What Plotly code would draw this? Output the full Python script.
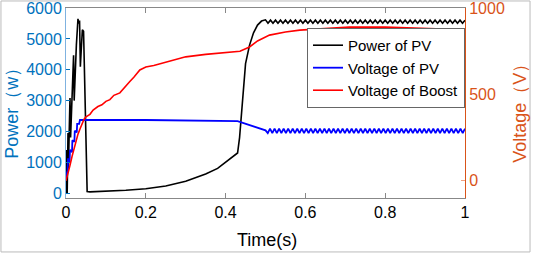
import plotly.graph_objects as go

# ---- data ----
power_t = [0, 0.001, 0.002, 0.003, 0.005, 0.006, 0.008, 0.010, 0.0115, 0.013, 0.016, 0.019,
           0.0205, 0.022, 0.026, 0.030, 0.032, 0.034, 0.036, 0.038, 0.041, 0.044, 0.047,
           0.050, 0.053, 0.06, 0.1, 0.15, 0.2, 0.25, 0.3, 0.35, 0.38, 0.40, 0.42, 0.43,
           0.435, 0.44, 0.445, 0.45, 0.46, 0.47, 0.48, 0.49, 0.50]
power_w = [0, 1400, 600, 0, 1950, 800, 2000, 3080, 1800, 2400, 3600, 4470,
           3000, 3600, 4800, 5650, 5500, 5600, 4100, 4600, 5300, 5250, 3500,
           1500, 50, 40, 60, 90, 140, 230, 380, 620, 800, 1000, 1180, 1300,
           1800, 2600, 3500, 4200, 4800, 5200, 5450, 5580, 5620]
# steady-state ripple of PV power (peak, trough) and cycle count over 0.5..1.0 s
power_ripple = [5610, 5510]
power_ripple_cycles = 40

vpv_t = [0, 0.004, 0.005, 0.009, 0.010, 0.015, 0.016, 0.021, 0.022, 0.027, 0.028, 0.033,
         0.035, 0.2, 0.43, 0.45, 0.47, 0.49, 0.50]
vpv_v = [20, 60, 130, 110, 180, 165, 235, 225, 290, 280, 330, 330,
         352, 352, 345, 330, 312, 298, 292]
vpv_ripple = [302, 276]
vpv_ripple_cycles = 44

vb_t = [0, 0.005, 0.01, 0.015, 0.02, 0.025, 0.03, 0.035, 0.04, 0.045, 0.05, 0.06, 0.068,
        0.08, 0.09, 0.1, 0.11, 0.12, 0.135, 0.15, 0.16, 0.17, 0.185, 0.19, 0.2, 0.22, 0.25,
        0.286, 0.3, 0.35, 0.4, 0.436, 0.46, 0.48, 0.51, 0.55, 0.586, 0.65, 0.71, 0.8, 0.9, 1.0]
vb_v = [0, 40, 90, 140, 185, 230, 270, 300, 330, 355, 370, 385, 410,
        430, 440, 460, 470, 495, 509, 545, 575, 600, 642, 648, 659, 668, 688,
        711, 718, 732, 742, 750, 775, 810, 844, 862, 873, 884, 890, 891, 884, 875]

x_ticks = [0, 0.2, 0.4, 0.6, 0.8, 1]
x_tick_text = ["0", "0.2", "0.4", "0.6", "0.8", "1"]
left_ticks = [0, 1000, 2000, 3000, 4000, 5000, 6000]
right_ticks = [0, 500, 1000]


def add_ripple(ts, vs, pair, cycles, t0=0.5, t1=1.0):
    ts = list(ts)
    vs = list(vs)
    n = cycles * 2
    step = (t1 - t0) / n
    for k in range(1, n + 1):
        ts.append(t0 + k * step)
        vs.append(pair[k % 2])
    return ts, vs


pt, pw = add_ripple(power_t, power_w, power_ripple, power_ripple_cycles)
vt, vv = add_ripple(vpv_t, vpv_v, vpv_ripple, vpv_ripple_cycles)

BLUE_AX = "#0072BD"
ORANGE_AX = "#D95319"
FONT = "Liberation Sans, Arial, sans-serif"

fig = go.Figure()
fig.add_trace(go.Scatter(x=pt, y=pw, mode="lines", name="Power of PV",
                         line=dict(color="black", width=1.6), yaxis="y"))
fig.add_trace(go.Scatter(x=vt, y=vv, mode="lines", name="Voltage of PV",
                         line=dict(color="#0000ff", width=1.8), yaxis="y2"))
fig.add_trace(go.Scatter(x=vb_t, y=vb_v, mode="lines", name="Voltage of Boost",
                         line=dict(color="#ff0000", width=1.6), yaxis="y2"))

fig.update_layout(
    width=533, height=255,
    margin=dict(l=66, r=68, t=8, b=57, autoexpand=False),
    paper_bgcolor="white", plot_bgcolor="white",
    font=dict(family=FONT, size=16, color="black"),
    showlegend=True,
    legend=dict(x=1, xanchor="right", y=0.895, yanchor="top",
                bgcolor="white", bordercolor="#666", borderwidth=1,
                font=dict(size=15, color="black"), itemwidth=30,
                tracegroupgap=0),
    xaxis=dict(range=[0, 1], tickvals=x_ticks, ticktext=x_tick_text,
               ticks="inside", ticklen=5, tickcolor="#888",
               showline=True, linecolor="#888", linewidth=1, mirror="ticks",
               showgrid=False, zeroline=False, automargin=False,
               ticklabeloverflow="allow",
               tickfont=dict(size=16, color="black")),
    yaxis=dict(range=[-160, 6004], tickvals=left_ticks,
               ticks="inside", ticklen=4, tickcolor=BLUE_AX,
               showline=True, linecolor="#7fb2e0", linewidth=1,
               showgrid=False, zeroline=False, automargin=False,
               ticklabeloverflow="allow",
               tickfont=dict(size=16, color=BLUE_AX)),
    yaxis2=dict(range=[-100, 1001], tickvals=right_ticks, overlaying="y", side="right",
                ticks="inside", ticklen=4, tickcolor="#f0a080",
                showline=True, linecolor=ORANGE_AX, linewidth=1,
                showgrid=False, zeroline=False, automargin=False,
                ticklabeloverflow="allow",
                tickfont=dict(size=16, color=ORANGE_AX)),
    annotations=[
        dict(text="Time(s)", xref="paper", yref="paper", x=0.504, y=-0.221,
             showarrow=False, font=dict(size=18, color="black"),
             xanchor="center", yanchor="middle"),
        dict(text="Power（w）", xref="paper", yref="paper", x=-0.135, y=0.47,
             showarrow=False, textangle=-90, font=dict(size=18, color=BLUE_AX),
             xanchor="center", yanchor="middle"),
        dict(text="Voltage（V）", xref="paper", yref="paper", x=1.138, y=0.47,
             showarrow=False, textangle=-90, font=dict(size=18, color=ORANGE_AX),
             xanchor="center", yanchor="middle"),
    ],
    shapes=[dict(type="rect", xref="paper", yref="paper",
                 x0=-0.163, x1=1.163, y0=-0.284, y1=1.037,
                 line=dict(color="#bbbbbb", width=1), layer="below")],
)

fig.write_html("out.html", config={"displayModeBar": False},
               post_script="document.body.style.margin='0';")
